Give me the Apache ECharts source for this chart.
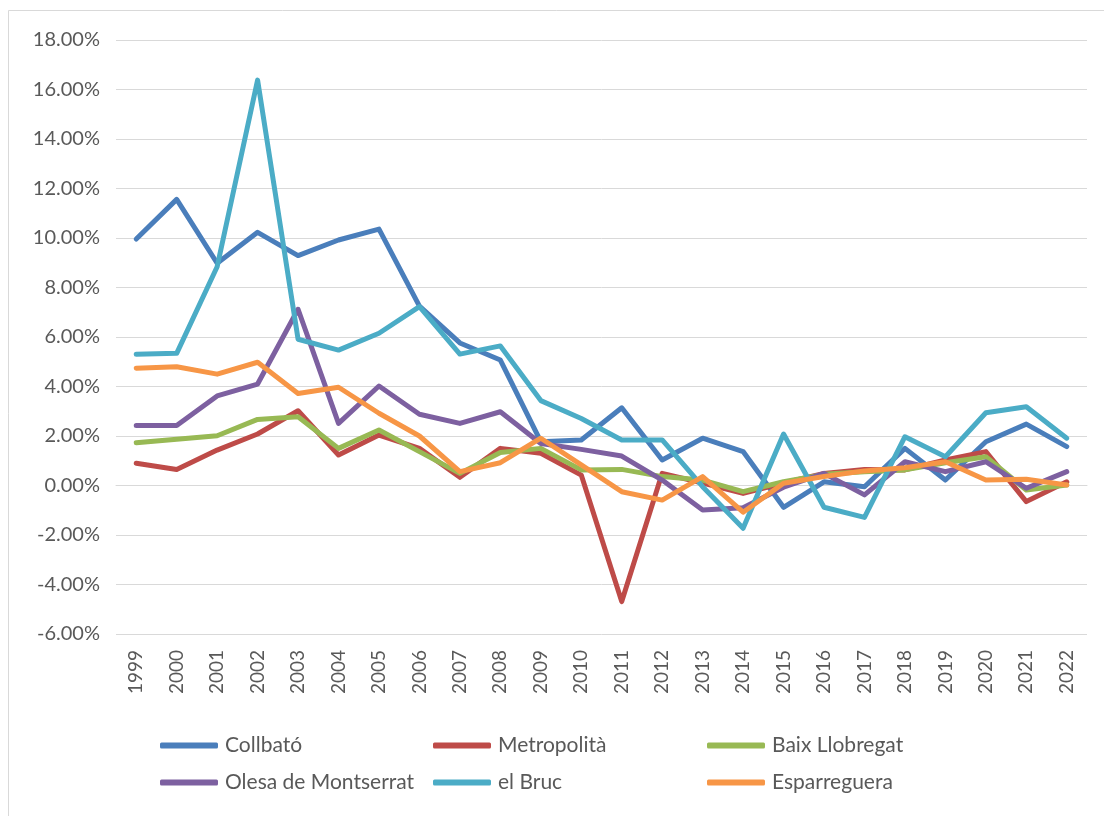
<!DOCTYPE html>
<html><head><meta charset="utf-8">
<script src="https://cdn.jsdelivr.net/npm/echarts@6/dist/echarts.min.js"></script>
<style>html,body{margin:0;padding:0;background:#fff}#c{width:1104px;height:816px}</style>
</head><body><div id="c"></div>
<script>
const years = ['1999','2000','2001','2002','2003','2004','2005','2006','2007','2008','2009','2010','2011','2012','2013','2014','2015','2016','2017','2018','2019','2020','2021','2022'];
const collbato = [9.96,11.56,8.98,10.23,9.29,9.92,10.36,7.25,5.76,5.07,1.77,1.84,3.14,1.03,1.91,1.37,-0.88,0.15,-0.05,1.5,0.22,1.77,2.48,1.57];
const metropolita = [0.9,0.65,1.43,2.08,3.02,1.23,2.04,1.5,0.33,1.5,1.3,0.42,-4.69,0.49,0.1,-0.32,0.1,0.49,0.65,0.63,1.03,1.37,-0.65,0.15];
const baixLlobregat = [1.73,1.87,2.01,2.67,2.78,1.5,2.24,1.37,0.49,1.33,1.5,0.63,0.65,0.36,0.22,-0.25,0.15,0.45,0.56,0.63,0.92,1.16,-0.18,0.02];
const olesa = [2.42,2.42,3.62,4.1,7.12,2.51,4.02,2.88,2.51,2.98,1.7,1.46,1.19,0.22,-0.99,-0.9,-0.07,0.49,-0.38,0.96,0.56,0.96,-0.11,0.56];
const elBruc = [5.3,5.34,8.84,16.38,5.91,5.47,6.15,7.23,5.31,5.64,3.43,2.71,1.84,1.84,-0.05,-1.73,2.08,-0.88,-1.29,1.97,1.16,2.94,3.18,1.91];
const esparreguera = [4.74,4.8,4.5,4.98,3.72,3.97,2.92,2.0,0.56,0.92,1.91,0.83,-0.25,-0.59,0.36,-1.08,0.09,0.36,0.59,0.72,0.96,0.22,0.25,0.02];

const seriesDefs = [
  {name:'Collbató', data:collbato, color:'#4a7ebb'},
  {name:'Metropolità', data:metropolita, color:'#be4b48'},
  {name:'Baix Llobregat', data:baixLlobregat, color:'#98b954'},
  {name:'Olesa de Montserrat', data:olesa, color:'#7d60a0'},
  {name:'el Bruc', data:elBruc, color:'#4bacc6'},
  {name:'Esparreguera', data:esparreguera, color:'#f79646'}
];
const legendPos = [[160,735],[433,735],[707,735],[160,772],[433,772],[707,772]];
const font = 'Lato, "Open Sans", sans-serif';

const chart = echarts.init(document.getElementById('c'), null, {renderer:'canvas'});
chart.setOption({
  animation:false,
  backgroundColor:'#fff',
  graphic:[{type:'rect', shape:{x:8.5,y:10.5,width:1200,height:900}, style:{fill:'none', stroke:'#d9d9d9', lineWidth:1}, silent:true}],
  grid:{left:116, right:17, top:40, bottom:182, containLabel:false},
  legend: seriesDefs.map((s,i)=>({
    data:[s.name], left:legendPos[i][0], top:legendPos[i][1], padding:0,
    icon:'roundRect', itemWidth:58, itemHeight:6, itemGap:0,
    textStyle:{fontFamily:font, fontSize:21, color:'#595959', padding:[0,0,0,2]},
    selectedMode:false
  })),
  xAxis:{type:'category', data:years, boundaryGap:true,
    axisLine:{show:true, lineStyle:{color:'#d9d9d9', width:1}},
    axisTick:{show:false},
    axisLabel:{rotate:90, interval:0, margin:16, fontFamily:font, fontSize:19, color:'#595959'}
  },
  yAxis:{type:'value', min:-6, max:18, interval:2,
    axisLine:{show:false}, axisTick:{show:false},
    splitLine:{lineStyle:{color:'#d9d9d9', width:1}},
    axisLabel:{margin:16, fontFamily:font, fontSize:20, color:'#595959', formatter:v=>v.toFixed(2)+'%'}
  },
  series: seriesDefs.map(s=>({
    name:s.name, type:'line', data:s.data, symbol:'none', smooth:false,
    lineStyle:{color:s.color, width:5, cap:'round', join:'round'},
    itemStyle:{color:s.color}
  }))
});
</script></body></html>
